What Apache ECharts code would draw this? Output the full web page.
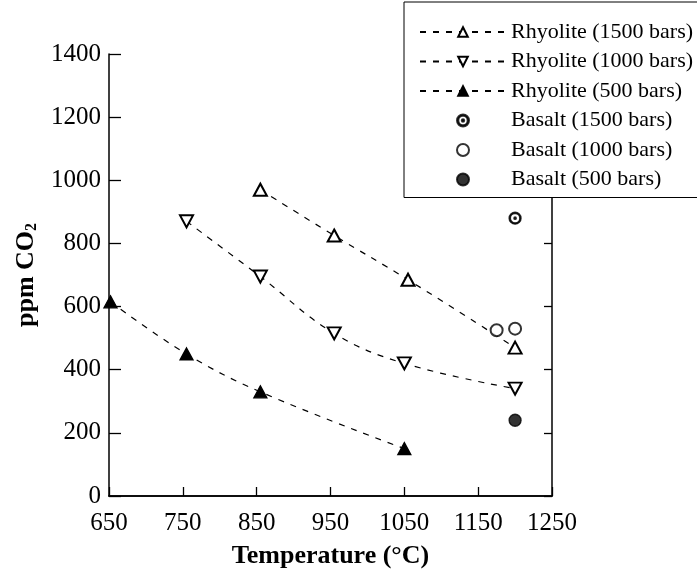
<!DOCTYPE html>
<html><head><meta charset="utf-8">
<script src="https://cdn.jsdelivr.net/npm/echarts@6/dist/echarts.min.js"></script>
<style>html,body{margin:0;padding:0;background:#fff}#c{width:697px;height:583px}</style>
</head><body><div id="c"></div>
<script>
// Tick values
const xTicks = [650, 750, 850, 950, 1050, 1150, 1250];
const yTicks = [0, 200, 400, 600, 800, 1000, 1200, 1400];
// Series data: [temperature °C, ppm CO2]
const rhy1500 = [[855, 970], [955, 825], [1055, 685], [1200, 470]];
const rhy1000 = [[755, 870], [855, 695], [955, 515], [1050, 420], [1200, 340]];
const rhy500 = [[652, 615], [755, 450], [855, 330], [1050, 150]];
const bas1500 = [[1200, 880]];
const bas1000 = [[1175, 525], [1200, 530]];
const bas500 = [[1200, 240]];
const names = ['Rhyolite (1500 bars)', 'Rhyolite (1000 bars)', 'Rhyolite (500 bars)',
  'Basalt (1500 bars)', 'Basalt (1000 bars)', 'Basalt (500 bars)'];

const FONT = 'Liberation Serif';
const dotCircle = 'path://M0,10 A10,10 0 1,1 20,10 A10,10 0 1,1 0,10 Z M2.2,10 A7.8,7.8 0 1,0 17.8,10 A7.8,7.8 0 1,0 2.2,10 Z M8,10 A2,2 0 1,1 12,10 A2,2 0 1,1 8,10 Z';

const chart = echarts.init(document.getElementById('c'), null, {renderer: 'canvas'});
const dashed = {color: '#000', width: 1.2, type: [6, 7]};
const lineSeries = (name, data, symbol, rotate) => ({
  name, type: 'line', data, smooth: 0.4, symbol, symbolSize: [13, 12], symbolRotate: rotate,
  itemStyle: {color: '#000', borderColor: '#000', borderWidth: 1.3},
  lineStyle: dashed, emphasis: {disabled: true}, z: 3
});
const scatterSeries = (name, data, symbol) => ({
  name, type: 'scatter', data, symbol, symbolSize: 12,
  itemStyle: {color: '#000', borderColor: '#000', borderWidth: 1.3},
  emphasis: {disabled: true}, z: 3
});

const axisFont = {fontFamily: FONT, fontSize: 25, color: '#000', formatter: v => String(v)};
chart.setOption({
  animation: false,
  backgroundColor: '#fff',
  grid: {left: 109, right: 145, top: 54, bottom: 87},
  legend: {
    orient: 'vertical', left: 404, top: 2,
    padding: [19, 20, 7, 15],
    itemWidth: 86, itemHeight: 12, itemGap: 7.5,
    selectedMode: false,
    textStyle: {fontFamily: FONT, fontSize: 22, color: '#000'},
    backgroundColor: '#fff', borderColor: '#000', borderWidth: 1,
    z: 10,
    data: names
  },
  xAxis: [{
    type: 'value', min: xTicks[0], max: xTicks[xTicks.length - 1], interval: xTicks[1] - xTicks[0],
    position: 'bottom',
    name: 'Temperature (°C)', nameLocation: 'middle', nameGap: 47,
    nameTextStyle: {fontFamily: FONT, fontSize: 26, fontWeight: 'bold', color: '#000'},
    axisLine: {lineStyle: {color: '#000', width: 1.5}},
    axisTick: {inside: true, length: 9, lineStyle: {color: '#000', width: 1.3}},
    axisLabel: Object.assign({margin: 15}, axisFont),
    splitLine: {show: false}
  }, {
    type: 'value', min: xTicks[0], max: xTicks[xTicks.length - 1], interval: xTicks[1] - xTicks[0],
    position: 'top',
    axisLine: {lineStyle: {color: '#000', width: 1.5}},
    axisTick: {show: false}, axisLabel: {show: false}, splitLine: {show: false}
  }],
  yAxis: [{
    type: 'value', min: yTicks[0], max: yTicks[yTicks.length - 1], interval: yTicks[1] - yTicks[0],
    position: 'left',
    name: 'ppm CO{sub|2}', nameLocation: 'middle', nameGap: 62, nameRotate: 90,
    nameTextStyle: {fontFamily: FONT, fontSize: 26, fontWeight: 'bold', color: '#000',
      rich: {sub: {fontFamily: FONT, fontSize: 16, fontWeight: 'bold', color: '#000', verticalAlign: 'bottom', padding: [12, 0, 0, 0]}}},
    axisLine: {lineStyle: {color: '#000', width: 1.5}},
    axisTick: {inside: true, length: 12, lineStyle: {color: '#000', width: 1.3}},
    axisLabel: Object.assign({margin: 8}, axisFont),
    splitLine: {show: false}
  }, {
    type: 'value', min: yTicks[0], max: yTicks[yTicks.length - 1], interval: yTicks[1] - yTicks[0],
    position: 'right',
    axisLine: {lineStyle: {color: '#000', width: 1.5}},
    axisTick: {inside: true, length: 8, lineStyle: {color: '#000', width: 1.3}},
    axisLabel: {show: false}, splitLine: {show: false}
  }],
  series: [
    lineSeries(names[0], rhy1500, 'emptyTriangle', 0),
    lineSeries(names[1], rhy1000, 'emptyTriangle', 180),
    lineSeries(names[2], rhy500, 'triangle', 0),
    scatterSeries(names[3], bas1500, dotCircle),
    scatterSeries(names[4], bas1000, 'emptyCircle'),
    scatterSeries(names[5], bas500, 'circle')
  ]
});
</script></body></html>
